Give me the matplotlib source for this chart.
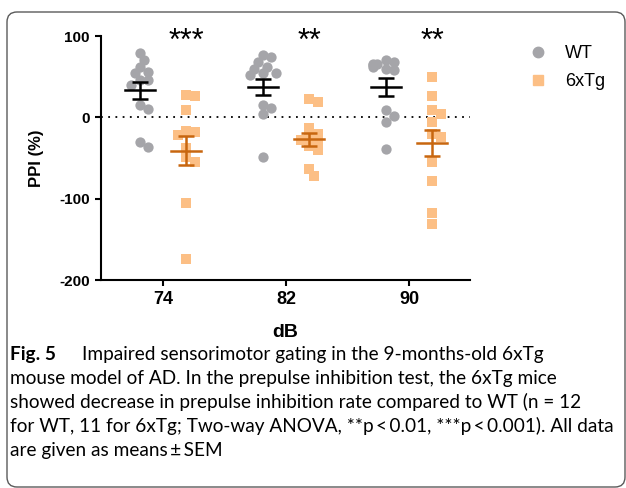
import numpy as np
import matplotlib.pyplot as plt
from matplotlib.patches import FancyBboxPatch
from matplotlib.lines import Line2D

# values (PPI %)
db_levels = ['74', '82', '90']
wt_74 = [79, 70, 62, 56, 54, 46, 46, 40, 15, 10, -30, -37]
wt_82 = [77, 74, 68, 62, 60, 55, 54, 52, 15, 12, 4, -49]
wt_90 = [70, 68, 66, 65, 64, 62, 60, 58, 9, 2, -6, -39]
tg_74 = [28, 26, 9, -17, -18, -22, -38, -49, -55, -105, -174]
tg_82 = [22, 19, -13, -20, -25, -28, -30, -35, -40, -63, -72]
tg_90 = [49, 26, 9, 4, -6, -20, -24, -55, -78, -118, -131]
wt_mean = [33, 37, 37]
wt_sem = [11, 10, 11]
tg_mean = [-41, -27, -32]
tg_sem = [18, 8, 16]
stars = ['***', '**', '**']

caption_lines = [
    'Impaired sensorimotor gating in the 9-months-old 6xTg',
    'mouse model of AD. In the prepulse inhibition test, the 6xTg mice',
    'showed decrease in prepulse inhibition rate compared to WT (n = 12',
    'for WT, 11 for 6xTg; Two-way ANOVA, **p\u2009<\u20090.01, ***p\u2009<\u20090.001). All data',
    'are given as means\u2009\u00b1\u2009SEM',
]

GRAY = '#a5a5a9'
ORANGE = '#fcbf85'
DARK_OR = '#c8660f'
plt.rcParams['font.family'] = ['Liberation Sans', 'DejaVu Sans']
plt.rcParams['axes.unicode_minus'] = False


def swarm(vals, center, px_x, px_y, diam):
    # simple beeswarm: push points sideways until they don't overlap
    placed = []
    xs = []
    steps = [0, 1, -1, 2, -2, 3, -3]
    for v in vals:
        for s in steps:
            cx = s * diam * 0.45
            if all(np.hypot(cx - px, (v - pv) / px_y) >= diam * 0.8 for px, pv in placed):
                break
        placed.append((cx, v))
        xs.append(center + cx * px_x)
    return xs


fig = plt.figure(figsize=(6.26, 4.88), dpi=100)
ax = fig.add_axes([101 / 626, 1 - 280 / 488, 369 / 626, 244 / 488])

pos = np.arange(len(db_levels))
off = 0.19
ux = 1 / 123.0       # data units per pixel (x)
uy = 100 / 81.0      # data units per pixel (y)

wt_all = [wt_74, wt_82, wt_90]
tg_all = [tg_74, tg_82, tg_90]
for i in range(len(db_levels)):
    xw = swarm(wt_all[i], pos[i] - off, ux, uy, 9.5)
    ax.scatter(xw, wt_all[i], s=55, marker='o', color=GRAY, linewidths=0, zorder=3)
    xt = swarm(tg_all[i], pos[i] + off, ux, uy, 9.5)
    ax.scatter(xt, tg_all[i], s=44, marker='s', color=ORANGE, linewidths=0, zorder=3)

    for c, m, e, col in [(pos[i] - off, wt_mean[i], wt_sem[i], 'black'),
                         (pos[i] + off, tg_mean[i], tg_sem[i], DARK_OR)]:
        ax.plot([c - 0.122, c + 0.122], [m, m], color=col, lw=1.8, zorder=4)
        ax.errorbar(c, m, yerr=e, color=col, lw=1.8, capsize=6, capthick=1.8, zorder=4)

    ax.text(pos[i] + off, 93, stars[i], ha='center', va='center', fontsize=22)

ax.axhline(0, color='black', lw=1.3, ls=(0, (1, 3)), zorder=2)

ax.set_xlim(-0.505, 2.495)
ax.set_ylim(-200, 100)
ax.set_xticks(pos)
ax.set_xticklabels(db_levels)
ax.set_yticks([-200, -100, 0, 100])
ax.spines['top'].set_visible(False)
ax.spines['right'].set_visible(False)
for sp in ['left', 'bottom']:
    ax.spines[sp].set_linewidth(1.5)
ax.tick_params(axis='both', direction='out', length=4, width=1.5)
ax.tick_params(axis='y', labelsize=11, pad=4)
ax.tick_params(axis='x', labelsize=13, pad=4)
for lab in ax.get_xticklabels() + ax.get_yticklabels():
    lab.set_fontweight('bold')

ax.set_ylabel('PPI (%)', fontsize=12, fontweight='bold')
ax.yaxis.set_label_coords(-0.155, 0.5)
ax.set_xlabel('dB', fontsize=14, fontweight='bold', va='top')
ax.xaxis.set_label_coords(0.5, -0.18)

handles = [Line2D([], [], marker='o', ls='none', color=GRAY, markersize=7.5),
           Line2D([], [], marker='s', ls='none', color=ORANGE, markersize=7)]
fig.legend(handles, ['WT', '6xTg'], loc='upper left', bbox_to_anchor=(527 / 626, 1 - 45 / 488),
           frameon=False, fontsize=13, handletextpad=0.9, labelspacing=0.6,
           handlelength=1.2, borderpad=0, borderaxespad=0)

# caption
cap_font = ['Lato', 'DejaVu Sans']
cap_size = 13.7
base = [360, 384, 408, 432, 456]
fig.text(10 / 626, 1 - base[0] / 488, 'Fig. 5', fontsize=cap_size, fontweight='bold',
         family=cap_font, va='baseline')
fig.text(82 / 626, 1 - base[0] / 488, caption_lines[0], fontsize=cap_size,
         family=cap_font, va='baseline')
for k in range(1, 5):
    fig.text(10 / 626, 1 - base[k] / 488, caption_lines[k], fontsize=cap_size,
             family=cap_font, va='baseline')

# rounded frame round the whole figure
frame = FancyBboxPatch((0.07, 0.01), 6.18, 4.75, boxstyle='round,pad=0,rounding_size=0.1',
                       transform=fig.dpi_scale_trans, fill=False, ec='#5a5a5a', lw=1)
fig.add_artist(frame)

fig.savefig('out.png', dpi=100)
